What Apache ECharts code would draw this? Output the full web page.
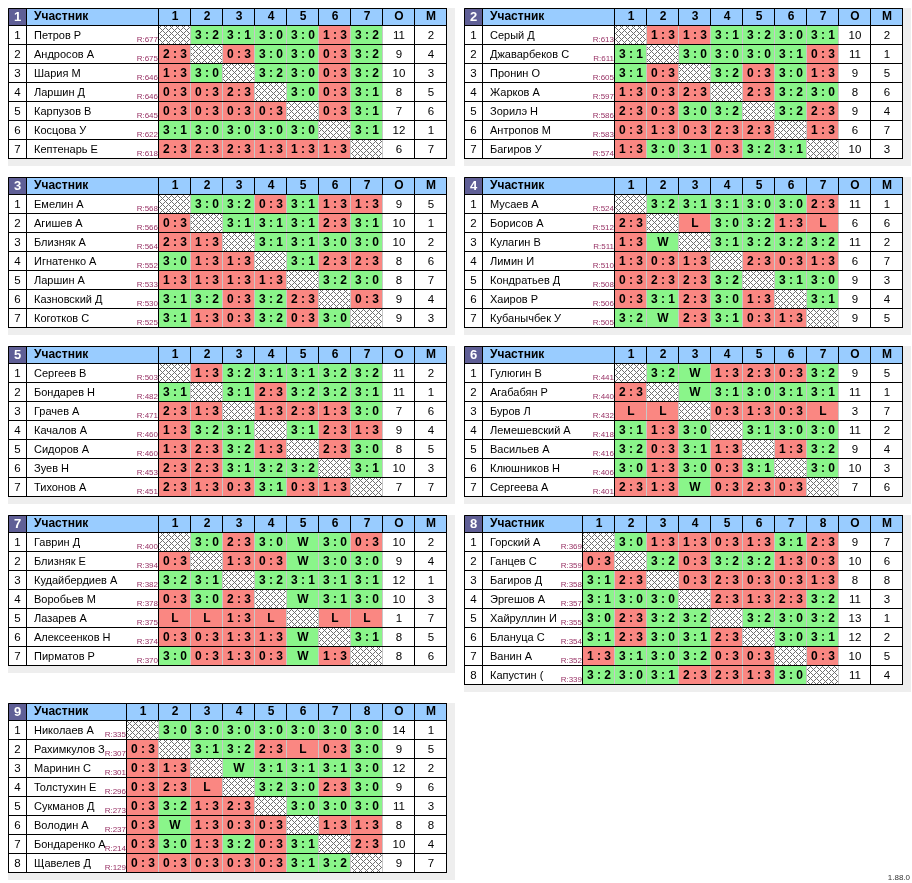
<!DOCTYPE html>
<html>
<head>
<meta charset="utf-8">
<script src="https://cdn.jsdelivr.net/npm/echarts@6/dist/echarts.min.js"></script>
<style>
  html, body { margin: 0; padding: 0; background: #fff; }
  #chart { width: 912px; height: 883px; }
</style>
</head>
<body>
<div id="chart"></div>
<script>
// группа 1
var names1 = ['Петров Р', 'Андросов А', 'Шария М', 'Ларшин Д', 'Карпузов В', 'Косцова У', 'Кептенарь Е'];
var rating1 = [677, 675, 646, 646, 645, 622, 618];
var scores1 = [
  ['', '3:2', '3:1', '3:0', '3:0', '1:3', '3:2'],
  ['2:3', '', '0:3', '3:0', '3:0', '0:3', '3:2'],
  ['1:3', '3:0', '', '3:2', '3:0', '0:3', '3:2'],
  ['0:3', '0:3', '2:3', '', '3:0', '0:3', '3:1'],
  ['0:3', '0:3', '0:3', '0:3', '', '0:3', '3:1'],
  ['3:1', '3:0', '3:0', '3:0', '3:0', '', '3:1'],
  ['2:3', '2:3', '2:3', '1:3', '1:3', '1:3', '']
];
var points1 = [11, 9, 10, 8, 7, 12, 6];
var places1 = [2, 4, 3, 5, 6, 1, 7];

// группа 2
var names2 = ['Серый Д', 'Джаварбеков С', 'Пронин О', 'Жарков А', 'Зорилэ Н', 'Антропов М', 'Багиров У'];
var rating2 = [613, 611, 605, 597, 586, 583, 574];
var scores2 = [
  ['', '1:3', '1:3', '3:1', '3:2', '3:0', '3:1'],
  ['3:1', '', '3:0', '3:0', '3:0', '3:1', '0:3'],
  ['3:1', '0:3', '', '3:2', '0:3', '3:0', '1:3'],
  ['1:3', '0:3', '2:3', '', '2:3', '3:2', '3:0'],
  ['2:3', '0:3', '3:0', '3:2', '', '3:2', '2:3'],
  ['0:3', '1:3', '0:3', '2:3', '2:3', '', '1:3'],
  ['1:3', '3:0', '3:1', '0:3', '3:2', '3:1', '']
];
var points2 = [10, 11, 9, 8, 9, 6, 10];
var places2 = [2, 1, 5, 6, 4, 7, 3];

// группа 3
var names3 = ['Емелин А', 'Агишев А', 'Близняк А', 'Игнатенко А', 'Ларшин А', 'Казновский Д', 'Коготков С'];
var rating3 = [568, 566, 564, 552, 533, 530, 525];
var scores3 = [
  ['', '3:0', '3:2', '0:3', '3:1', '1:3', '1:3'],
  ['0:3', '', '3:1', '3:1', '3:1', '2:3', '3:1'],
  ['2:3', '1:3', '', '3:1', '3:1', '3:0', '3:0'],
  ['3:0', '1:3', '1:3', '', '3:1', '2:3', '2:3'],
  ['1:3', '1:3', '1:3', '1:3', '', '3:2', '3:0'],
  ['3:1', '3:2', '0:3', '3:2', '2:3', '', '0:3'],
  ['3:1', '1:3', '0:3', '3:2', '0:3', '3:0', '']
];
var points3 = [9, 10, 10, 8, 8, 9, 9];
var places3 = [5, 1, 2, 6, 7, 4, 3];

// группа 4
var names4 = ['Мусаев А', 'Борисов А', 'Кулагин В', 'Лимин И', 'Кондратьев Д', 'Хаиров Р', 'Кубанычбек У'];
var rating4 = [524, 512, 511, 510, 508, 506, 505];
var scores4 = [
  ['', '3:2', '3:1', '3:1', '3:0', '3:0', '2:3'],
  ['2:3', '', 'L', '3:0', '3:2', '1:3', 'L'],
  ['1:3', 'W', '', '3:1', '3:2', '3:2', '3:2'],
  ['1:3', '0:3', '1:3', '', '2:3', '0:3', '1:3'],
  ['0:3', '2:3', '2:3', '3:2', '', '3:1', '3:0'],
  ['0:3', '3:1', '2:3', '3:0', '1:3', '', '3:1'],
  ['3:2', 'W', '2:3', '3:1', '0:3', '1:3', '']
];
var points4 = [11, 6, 11, 6, 9, 9, 9];
var places4 = [1, 6, 2, 7, 3, 4, 5];

// группа 5
var names5 = ['Сергеев В', 'Бондарев Н', 'Грачев А', 'Качалов А', 'Сидоров А', 'Зуев Н', 'Тихонов А'];
var rating5 = [503, 482, 471, 460, 460, 453, 451];
var scores5 = [
  ['', '1:3', '3:2', '3:1', '3:1', '3:2', '3:2'],
  ['3:1', '', '3:1', '2:3', '3:2', '3:2', '3:1'],
  ['2:3', '1:3', '', '1:3', '2:3', '1:3', '3:0'],
  ['1:3', '3:2', '3:1', '', '3:1', '2:3', '1:3'],
  ['1:3', '2:3', '3:2', '1:3', '', '2:3', '3:0'],
  ['2:3', '2:3', '3:1', '3:2', '3:2', '', '3:1'],
  ['2:3', '1:3', '0:3', '3:1', '0:3', '1:3', '']
];
var points5 = [11, 11, 7, 9, 8, 10, 7];
var places5 = [2, 1, 6, 4, 5, 3, 7];

// группа 6
var names6 = ['Гулюгин В', 'Агабабян Р', 'Буров Л', 'Лемешевский А', 'Васильев А', 'Клюшников Н', 'Сергеева А'];
var rating6 = [441, 440, 432, 418, 416, 406, 401];
var scores6 = [
  ['', '3:2', 'W', '1:3', '2:3', '0:3', '3:2'],
  ['2:3', '', 'W', '3:1', '3:0', '3:1', '3:1'],
  ['L', 'L', '', '0:3', '1:3', '0:3', 'L'],
  ['3:1', '1:3', '3:0', '', '3:1', '3:0', '3:0'],
  ['3:2', '0:3', '3:1', '1:3', '', '1:3', '3:2'],
  ['3:0', '1:3', '3:0', '0:3', '3:1', '', '3:0'],
  ['2:3', '1:3', 'W', '0:3', '2:3', '0:3', '']
];
var points6 = [9, 11, 3, 11, 9, 10, 7];
var places6 = [5, 1, 7, 2, 4, 3, 6];

// группа 7
var names7 = ['Гаврин Д', 'Близняк Е', 'Кудайбердиев А', 'Воробьев М', 'Лазарев А', 'Алексеенков Н', 'Пирматов Р'];
var rating7 = [400, 394, 382, 378, 375, 374, 370];
var scores7 = [
  ['', '3:0', '2:3', '3:0', 'W', '3:0', '0:3'],
  ['0:3', '', '1:3', '0:3', 'W', '3:0', '3:0'],
  ['3:2', '3:1', '', '3:2', '3:1', '3:1', '3:1'],
  ['0:3', '3:0', '2:3', '', 'W', '3:1', '3:0'],
  ['L', 'L', '1:3', 'L', '', 'L', 'L'],
  ['0:3', '0:3', '1:3', '1:3', 'W', '', '3:1'],
  ['3:0', '0:3', '1:3', '0:3', 'W', '1:3', '']
];
var points7 = [10, 9, 12, 10, 1, 8, 8];
var places7 = [2, 4, 1, 3, 7, 5, 6];

// группа 8
var names8 = ['Горский А', 'Ганцев С', 'Багиров Д', 'Эргешов А', 'Хайруллин И', 'Блануца С', 'Ванин А', 'Капустин ('];
var rating8 = [369, 359, 358, 357, 355, 354, 352, 339];
var scores8 = [
  ['', '3:0', '1:3', '1:3', '0:3', '1:3', '3:1', '2:3'],
  ['0:3', '', '3:2', '0:3', '3:2', '3:2', '1:3', '0:3'],
  ['3:1', '2:3', '', '0:3', '2:3', '0:3', '0:3', '1:3'],
  ['3:1', '3:0', '3:0', '', '2:3', '1:3', '2:3', '3:2'],
  ['3:0', '2:3', '3:2', '3:2', '', '3:2', '3:0', '3:2'],
  ['3:1', '2:3', '3:0', '3:1', '2:3', '', '3:0', '3:1'],
  ['1:3', '3:1', '3:0', '3:2', '0:3', '0:3', '', '0:3'],
  ['3:2', '3:0', '3:1', '2:3', '2:3', '1:3', '3:0', '']
];
var points8 = [9, 10, 8, 11, 13, 12, 10, 11];
var places8 = [7, 6, 8, 3, 1, 2, 5, 4];

// группа 9
var names9 = ['Николаев А', 'Рахимкулов З', 'Маринин С', 'Толстухин Е', 'Сукманов Д', 'Володин А', 'Бондаренко А', 'Щавелев Д'];
var rating9 = [335, 307, 301, 296, 273, 237, 214, 129];
var scores9 = [
  ['', '3:0', '3:0', '3:0', '3:0', '3:0', '3:0', '3:0'],
  ['0:3', '', '3:1', '3:2', '2:3', 'L', '0:3', '3:0'],
  ['0:3', '1:3', '', 'W', '3:1', '3:1', '3:1', '3:0'],
  ['0:3', '2:3', 'L', '', '3:2', '3:0', '2:3', '3:0'],
  ['0:3', '3:2', '1:3', '2:3', '', '3:0', '3:0', '3:0'],
  ['0:3', 'W', '1:3', '0:3', '0:3', '', '1:3', '1:3'],
  ['0:3', '3:0', '1:3', '3:2', '0:3', '3:1', '', '2:3'],
  ['0:3', '0:3', '0:3', '0:3', '0:3', '3:1', '3:2', '']
];
var points9 = [14, 9, 12, 9, 11, 8, 10, 9];
var places9 = [1, 5, 2, 6, 3, 8, 4, 7];

var groups = [
  [names1, rating1, scores1, points1, places1],
  [names2, rating2, scores2, points2, places2],
  [names3, rating3, scores3, points3, places3],
  [names4, rating4, scores4, points4, places4],
  [names5, rating5, scores5, points5, places5],
  [names6, rating6, scores6, points6, places6],
  [names7, rating7, scores7, points7, places7],
  [names8, rating8, scores8, points8, places8],
  [names9, rating9, scores9, points9, places9]
];

// раскладка
var blockPos = [[8, 8], [464, 8], [8, 177], [464, 177], [8, 346], [464, 346], [8, 515], [464, 515], [8, 703]];
var NUM_W = 19, CELL_W = 32, TABLE_W = 439, HEAD_H = 18, ROW_H = 19, PAD_R = 8, PAD_B = 7;
var FONT = '"Liberation Sans", Arial, sans-serif';
var GREEN = '#8af58a', RED = '#fa8782', HEAD = '#99ccff', HEAD_NO = '#5f5f96';

// штриховка для диагонали
var hatch = document.createElement('canvas');
hatch.width = 6; hatch.height = 6;
var hctx = hatch.getContext('2d');
hctx.fillStyle = '#fff';
hctx.fillRect(0, 0, 6, 6);
hctx.fillStyle = '#707070';
for (var i = 0; i < 6; i++) {
  hctx.fillRect(i, i, 1, 1);
  hctx.fillRect((6 - i) % 6, i, 1, 1);
}
var HATCH = { type: 'pattern', image: hatch, repeat: 'repeat' };

function isWin(s) {
  if (s === 'W') return true;
  if (s === 'L') return false;
  var p = s.split(':');
  return +p[0] > +p[1];
}

function buildCells(g, gi) {
  var names = g[0], rating = g[1], scores = g[2], points = g[3], places = g[4];
  var n = names.length;
  var nameW = TABLE_W - NUM_W - (n + 2) * CELL_W;
  var edges = [0, NUM_W, NUM_W + nameW];
  for (var k = 0; k < n + 2; k++) edges.push(NUM_W + nameW + (k + 1) * CELL_W);
  var cells = [];
  function add(col, row, o) {
    o.x0 = edges[col]; o.x1 = edges[col + 1];
    o.y0 = row === 0 ? 0 : HEAD_H + (row - 1) * ROW_H;
    o.y1 = row === 0 ? HEAD_H : HEAD_H + row * ROW_H;
    o.vline = o.vline || '#000';
    cells.push(o);
  }
  // шапка
  add(0, 0, { fill: HEAD_NO, text: String(gi + 1), color: '#fff', bold: true, size: 13 });
  add(1, 0, { fill: HEAD, text: 'Участник', bold: true, left: true });
  for (var c = 0; c < n; c++) add(2 + c, 0, { fill: HEAD, text: String(c + 1), bold: true });
  add(2 + n, 0, { fill: HEAD, text: 'О', bold: true });
  add(3 + n, 0, { fill: HEAD, text: 'М', bold: true });
  // строки
  for (var r = 0; r < n; r++) {
    add(0, r + 1, { fill: '#fff', text: String(r + 1), size: 11.5 });
    add(1, r + 1, { fill: '#fff', text: names[r], left: true, size: 11, rating: 'R:' + rating[r] });
    for (var c2 = 0; c2 < n; c2++) {
      var s = scores[r][c2];
      if (s === '') {
        add(2 + c2, r + 1, { fill: HATCH, text: '', vline: '#c8c8c8' });
      } else {
        add(2 + c2, r + 1, {
          fill: isWin(s) ? GREEN : RED,
          text: s.length > 1 ? s.replace(':', ' : ') : s,
          bold: true, vline: '#c8c8c8'
        });
      }
    }
    add(2 + n, r + 1, { fill: '#fff', text: String(points[r]), size: 11.5 });
    add(3 + n, r + 1, { fill: '#fff', text: String(places[r]), size: 11.5 });
  }
  cells.push({ kind: 'frame', x0: 0, x1: TABLE_W, y0: 0, y1: HEAD_H + n * ROW_H });
  return cells;
}

function makeRender(cells) {
  return function (params, api) {
    var c = cells[params.dataIndex];
    var a = api.coord([c.x0, c.y0]), b = api.coord([c.x1, c.y1]);
    var x = Math.round(a[0]), y = Math.round(a[1]);
    var w = Math.round(b[0]) - x, h = Math.round(b[1]) - y;
    if (c.kind === 'frame') {
      return {
        type: 'rect',
        shape: { x: x + 0.5, y: y + 0.5, width: w - 1, height: h - 1 },
        style: { fill: null, stroke: '#000', lineWidth: 1 }
      };
    }
    var kids = [
      { type: 'rect', shape: { x: x, y: y, width: w, height: h }, style: { fill: c.fill } },
      { type: 'line', shape: { x1: x, y1: y + h - 0.5, x2: x + w, y2: y + h - 0.5 }, style: { stroke: '#000', lineWidth: 1 } },
      { type: 'line', shape: { x1: x + w - 0.5, y1: y, x2: x + w - 0.5, y2: y + h - 1 }, style: { stroke: c.vline, lineWidth: 1 } }
    ];
    if (c.text) {
      kids.push({
        type: 'text',
        style: {
          text: c.text,
          x: c.left ? x + 7 : x + w / 2,
          y: y + (h - 1) / 2 + 0.5,
          align: c.left ? 'left' : 'center',
          verticalAlign: 'middle',
          font: (c.bold ? 'bold ' : '') + (c.size || 12) + 'px ' + FONT,
          fill: c.color || '#000'
        }
      });
    }
    if (c.rating) {
      kids.push({
        type: 'text',
        style: {
          text: c.rating,
          x: x + w - 1,
          y: y + h - 1,
          align: 'right',
          verticalAlign: 'bottom',
          font: '8px ' + FONT,
          fill: '#993366'
        }
      });
    }
    return { type: 'group', children: kids };
  };
}

var grids = [], xAxes = [], yAxes = [], series = [];
groups.forEach(function (g, gi) {
  var n = g[0].length;
  var tableH = HEAD_H + n * ROW_H;
  var cells = buildCells(g, gi);
  grids.push({
    left: blockPos[gi][0], top: blockPos[gi][1],
    width: TABLE_W + PAD_R, height: tableH + PAD_B,
    show: true, backgroundColor: '#eeeeee', borderWidth: 0
  });
  xAxes.push({ type: 'value', gridIndex: gi, min: 0, max: TABLE_W + PAD_R, show: false });
  yAxes.push({ type: 'value', gridIndex: gi, min: 0, max: tableH + PAD_B, inverse: true, show: false });
  series.push({
    type: 'custom',
    coordinateSystem: 'cartesian2d',
    xAxisIndex: gi, yAxisIndex: gi,
    silent: true,
    renderItem: makeRender(cells),
    data: cells.map(function (c) { return [(c.x0 + c.x1) / 2, (c.y0 + c.y1) / 2]; })
  });
});

var chart = echarts.init(document.getElementById('chart'), null, { renderer: 'canvas' });
chart.setOption({
  animation: false,
  backgroundColor: '#fff',
  title: {
    text: '1.88.0', right: 2, bottom: 1, padding: 0,
    textStyle: { fontSize: 8, fontWeight: 'normal', color: '#333', fontFamily: FONT }
  },
  grid: grids,
  xAxis: xAxes,
  yAxis: yAxes,
  series: series
});
</script>
</body>
</html>
